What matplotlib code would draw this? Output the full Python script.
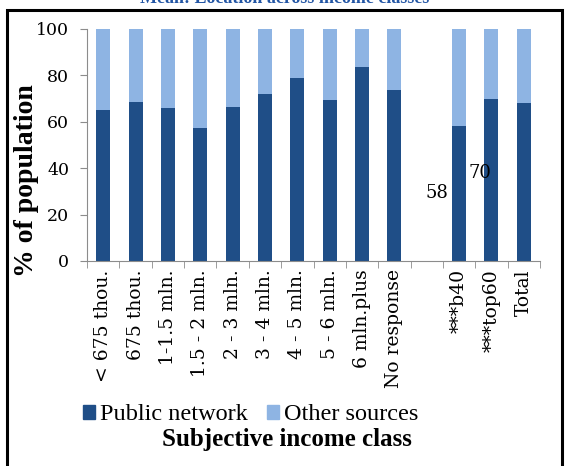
import numpy as np
import matplotlib
matplotlib.use("Agg")
import matplotlib.pyplot as plt
from matplotlib.patches import Rectangle, Patch

# income classes (blank slot separates the groups)
categories = ["< 675 thou.", "675 thou.", "1-1.5 mln.", "1.5 - 2 mln.", "2 - 3 mln.",
              "3 - 4 mln.", "4 - 5 mln.", "5 - 6 mln.", "6 mln.plus", "No response",
              "", "***b40", "***top60", "Total"]
public = [65, 68.5, 66, 57.5, 66.5, 72, 79, 69.5, 83.5, 73.5, np.nan, 58, 70, 68]
other = [35, 31.5, 34, 42.5, 33.5, 28, 21, 30.5, 16.5, 26.5, np.nan, 42, 30, 32]
yticks = [0, 20, 40, 60, 80, 100]

dark = "#1F4E87"
light = "#8EB4E3"
axcol = "#8C8C8C"

plt.rcParams['font.family'] = ['Liberation Serif', 'DejaVu Serif']

fig = plt.figure(figsize=(5.69, 4.66), dpi=100)
ax = fig.add_axes([0.153, 0.44, 0.796, 0.498])

x = np.arange(len(categories))
ax.bar(x, public, width=0.43, color=dark, label="Public network")
ax.bar(x, other, width=0.43, bottom=public, color=light, label="Other sources")

ax.set_xlim(-0.5, len(categories) - 0.5)
ax.set_ylim(0, 100)
ax.set_yticks(yticks)
ax.set_yticklabels([str(v) for v in yticks], family='DejaVu Serif', fontsize=12.5)
ax.tick_params(axis='y', length=5, color=axcol, pad=8)

ax.set_xticks(x)
ax.set_xticklabels(categories, rotation=90, fontsize=13.5, family='DejaVu Serif')
ax.set_xticks(np.arange(-0.5, len(categories)), minor=True)
ax.tick_params(axis='x', which='major', length=0, pad=6)
ax.tick_params(axis='x', which='minor', length=5, color=axcol)

for s in ["top", "right"]:
    ax.spines[s].set_visible(False)
for s in ["left", "bottom"]:
    ax.spines[s].set_color(axcol)

# stray data labels
ax.text(10.32, 29.3, "58", fontsize=13, family='DejaVu Serif', ha='center', va='center')
ax.text(11.63, 38, "70", fontsize=13, family='DejaVu Serif', ha='center', va='center')

fig.text(0.046, 0.612, "% of population", fontsize=20, fontweight='bold',
         rotation=90, ha='center', va='center')
fig.text(0.505, 0.056, "Subjective income class", fontsize=18, fontweight='bold',
         ha='center', va='center')

handles = [Patch(color=dark), Patch(color=light)]
fig.legend(handles, ["Public network", "Other sources"], loc='center',
           bbox_to_anchor=(0.44, 0.11), ncol=2, frameon=False, fontsize=17.5,
           handlelength=0.5, handleheight=0.5, handletextpad=0.2, columnspacing=0.8)

# title cut off by the crop
fig.text(0.5, 0.993, "Mean: Location across income classes", fontsize=13,
         fontweight='bold', color="#2255A4", ha='center', va='baseline')

# outer frame
fig.patches.append(Rectangle((0.012, -0.01), 0.976, 0.988, transform=fig.transFigure,
                             fill=False, edgecolor='black', linewidth=2.2))

fig.savefig("out.png", dpi=100)
